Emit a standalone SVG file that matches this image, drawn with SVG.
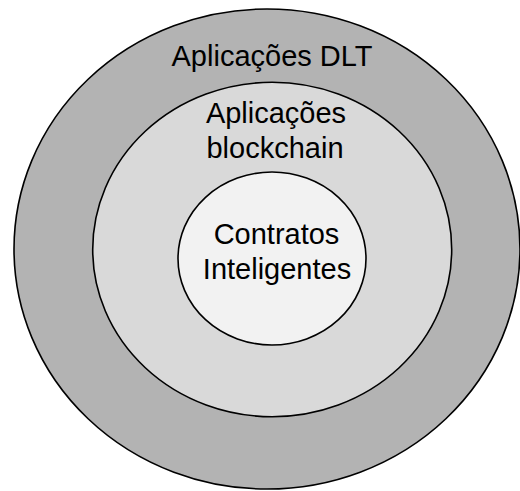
<svg xmlns="http://www.w3.org/2000/svg" width="520" height="491" viewBox="0 0 520 491">
  <style>
    .ring { stroke: #000; stroke-width: 1.6; }
    .label { font-family: "Liberation Sans", Arial, sans-serif; font-size: 29px; fill: #000; text-anchor: middle; }
  </style>
  <rect width="520" height="491" fill="#fff"/>
  <g id="dlt">
    <ellipse class="ring" cx="267" cy="249" rx="253" ry="240" fill="#b3b3b3"/>
    <text class="label" x="272" y="65.5">Aplicações DLT</text>
  </g>
  <g id="blockchain">
    <ellipse class="ring" cx="272.2" cy="249.5" rx="179.5" ry="167.2" fill="#d9d9d9"/>
    <text class="label" x="276" y="122.5">Aplicações</text>
    <text class="label" x="275" y="158">blockchain</text>
  </g>
  <g id="contratos">
    <ellipse class="ring" cx="272" cy="258.5" rx="94" ry="86.5" fill="#f2f2f2"/>
    <text class="label" x="276.5" y="244">Contratos</text>
    <text class="label" x="277" y="279.3">Inteligentes</text>
  </g>
  <g id="connectors"/>
</svg>
